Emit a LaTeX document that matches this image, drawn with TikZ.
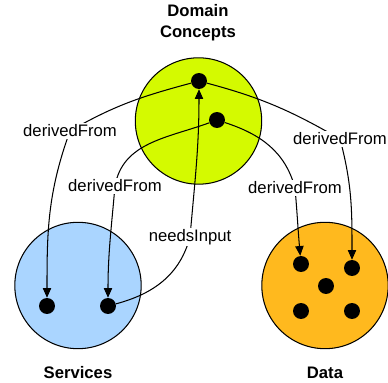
\documentclass[tikz,border=0pt]{standalone}
\usepackage{fontspec}
\setmainfont{Liberation Sans}
\usetikzlibrary{arrows.meta}

\definecolor{domainlime}{RGB}{212,250,0}
\definecolor{servblue}{RGB}{170,213,255}
\definecolor{dataorange}{RGB}{255,185,30}

\begin{document}
\begin{tikzpicture}[x=0.72pt,y=0.72pt,font=\fontsize{12}{15}\selectfont,
	set/.style={circle,draw,line width=0.75pt,minimum size=91pt,inner sep=0pt},
	dot/.style={circle,fill=black,minimum size=11.5pt,inner sep=0pt},
	title/.style={font=\fontsize{12}{15}\selectfont\bfseries,align=center},
	lbl/.style={fill=white,inner sep=1pt},
	link/.style={line width=0.75pt,-{Triangle[width=6pt,length=7pt]}}]
	\useasboundingbox (0,0) rectangle (388,383);

	% the three sets
	\node[set,fill=domainlime] (dom) at (198.5,262) {};
	\node[set,fill=servblue] (srv) at (78,97.5) {};
	\node[set,fill=dataorange] (dat) at (325,97.5) {};

	\node[title] (domT) at (198,360.5) {Domain\\Concepts};
	\node[title] (srvT) at (78,10) {Services};
	\node[title] (datT) at (325,10) {Data};

	% elements
	\node[dot] (dc1) at (199,302) {};
	\node[dot] (dc2) at (217,263) {};
	\node[dot] (s1) at (47,77) {};
	\node[dot] (s2) at (108,77) {};
	\node[dot] (dd1) at (301,119) {};
	\node[dot] (dd2) at (352,115) {};
	\node[dot] (dd3) at (326,97) {};
	\node[dot] (dd4) at (301,72) {};
	\node[dot] (dd5) at (352,72) {};

	% relations
	\draw[link] (dc1) to[out=195,in=30] (70,252) node[lbl] (l1) {derivedFrom}
		to[out=250,in=90] (s1);
	\draw[link] (dc2) to[out=200,in=80] (115,197) node[lbl] (l2) {derivedFrom}
		to[out=265,in=90] (s2);
	\draw[link] (dc1) to[out=-15,in=150] (340,244) node[lbl] (l3) {derivedFrom}
		to[out=-75,in=90] (dd2);
	\draw[link] (dc2) to[out=-18,in=105] (295,195) node[lbl] (l4) {derivedFrom}
		to[out=-85,in=95] (dd1);
	\draw[link] (s2) to[out=15,in=-105] (190,146) node[lbl] (l5) {needsInput}
		to[out=85,in=-90] (dc1);
\end{tikzpicture}
\end{document}
